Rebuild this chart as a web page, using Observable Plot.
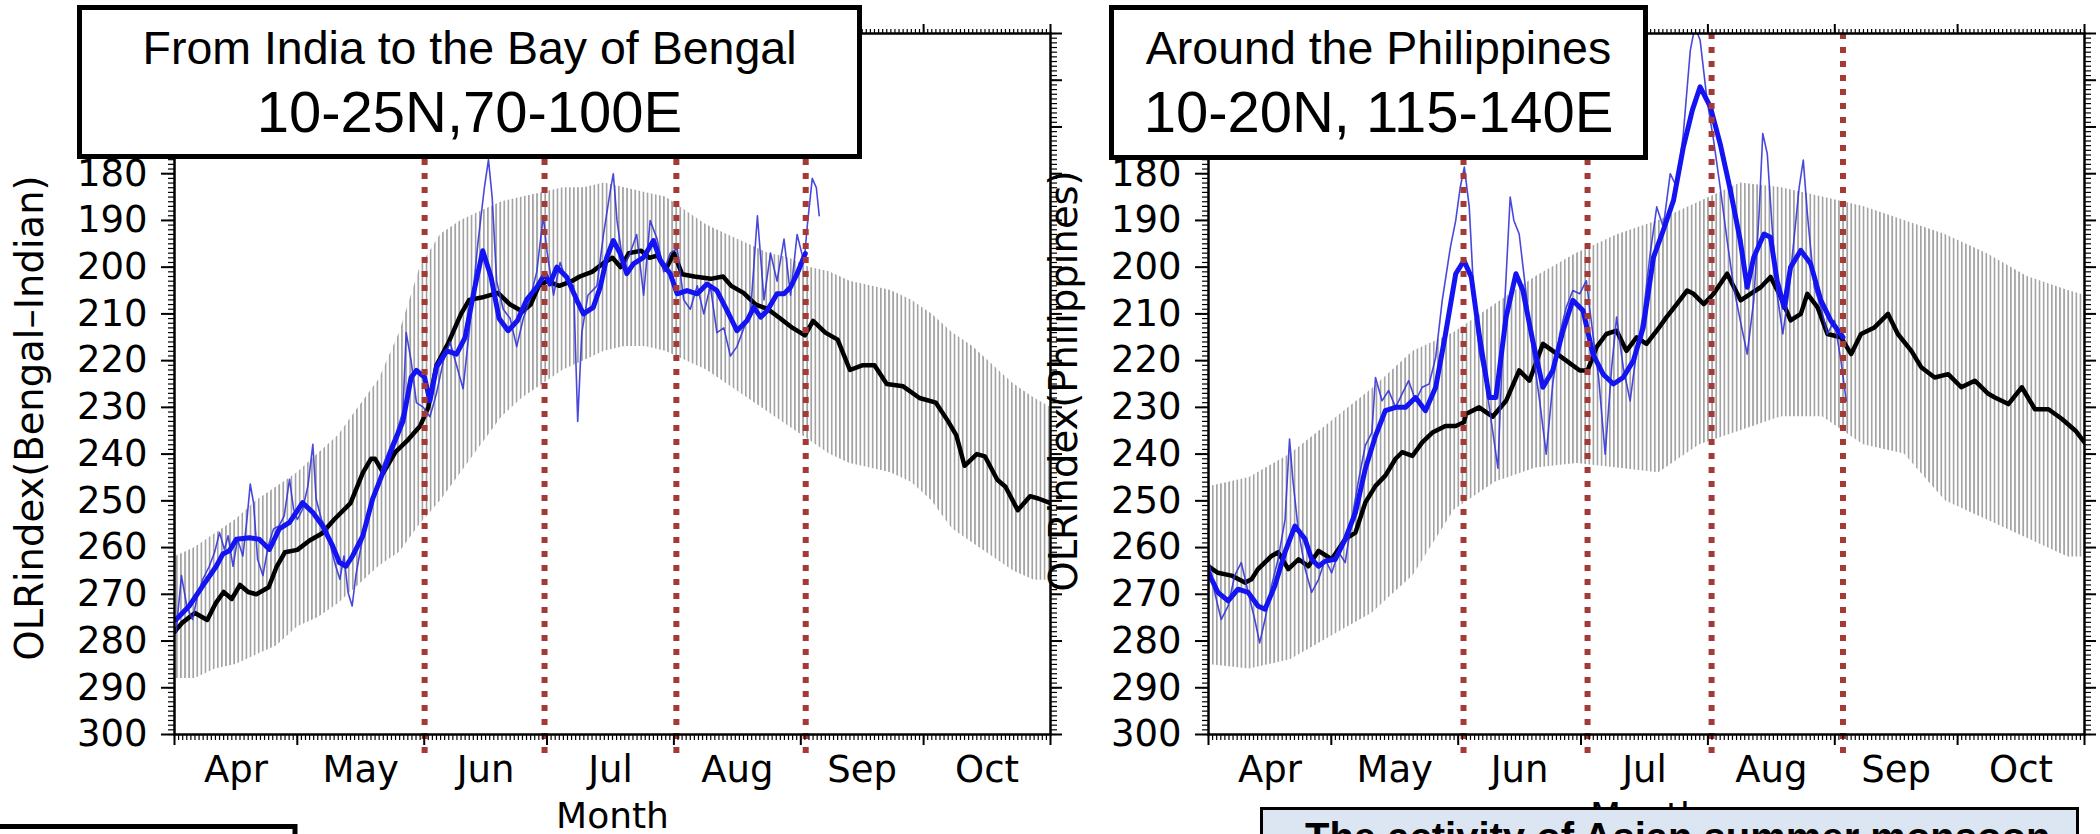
<!DOCTYPE html>
<html><head><meta charset="utf-8">
<script src="https://cdn.jsdelivr.net/npm/d3@7"></script>
<script src="https://cdn.jsdelivr.net/npm/@observablehq/plot@0.6"></script>
<style>
html,body{margin:0;padding:0;background:#fff;}
#wrap{position:relative;width:2100px;height:834px;overflow:hidden;background:#fff;}
#wrap > svg{position:absolute;top:0;}
</style></head><body>
<svg width="0" height="0" style="position:absolute;left:0;top:0">
 <defs>
  <pattern id="olrHatch" patternUnits="userSpaceOnUse" width="4.093" height="8">
   <rect x="0" y="0" width="1.7" height="8" fill="#a3a3a3"></rect>
  </pattern>
 </defs>
</svg>
<div id="wrap"></div>
<script>
// ---------- axis / tick data ----------
const monthNames = ["Apr","May","Jun","Jul","Aug","Sep","Oct"];
const monthStartDays = [0,30,61,91,122,153,183,214];   // day index, 0 = 1 April
const yTickValues = [150,160,170,180,190,200,210,220,230,240,250,260,270,280,290,300];
const yLabelled = [180,190,200,210,220,230,240,250,260,270,280,290,300];

// ---------- left panel: India to Bay of Bengal ----------
// climatology [day, OLR]
const leftClim = [[0,278],[2,276],[5,274],[8,275.5],[10,272],[12,269.5],[14,271],[16,268],[18,269.5],[20,270],[23,268.5],[25,264],[27,261],[30,260.5],[33,258.5],[36,257],[39,254],[43,250.5],[46,244],[48,241],[49,241],[51,244],[54,239.5],[57,237],[60,234],[62,230],[64,221],[67,216],[70,210],[72,207],[75,206.5],[79,205.5],[82,208],[85,209.5],[87,208],[89,204],[91,203],[94,204],[97,203],[99,202],[102,201],[105,199],[107,198],[109,200],[111,197],[114,196.5],[116,198],[118,197.5],[120,200.5],[122,197],[124,201.5],[127,202],[131,202.5],[134,202],[136,204],[139,205.5],[142,208],[145,209],[148,211],[151,213],[154,214.6],[156,211.5],[159,214],[162,215.5],[165,222],[168,221],[171,221],[174,225],[178,225.5],[182,228],[186,229],[189,233],[191,236],[193,242.5],[196,240],[198,240.5],[201,245.5],[203,247],[206,252],[209,249],[211,249.5],[214,250.5]];
// spread of the climatology [day, upper, lower]
const leftBand = [[0,262,288],[5,260,288],[10,257,286],[15,254,285],[20,250,283],[25,247,281],[30,244,277],[35,240,275],[40,236,272],[45,230,268],[50,224,264],[55,214,261],[60,200,255],[65,193,250],[70,190,244],[75,188,238],[80,186,232],[85,185,228],[90,184,225],[95,183,222],[100,183,220],[105,182,218],[110,183,217],[115,184,217],[120,185,218],[125,188,220],[130,191,222],[135,193,225],[140,195,228],[145,197,231],[150,198,234],[155,200,237],[160,201,240],[165,203,242],[170,204,243],[175,205,244],[180,207,246],[185,210,250],[190,214,256],[195,217,259],[200,221,262],[205,225,265],[210,228,267],[214,230,267]];
// daily observed (thin blue)
const leftDaily = [[0.4,278],[1.7,266],[3,272.5],[4.4,275.4],[5.6,270.4],[6.9,266.8],[8.5,264],[9.8,261],[11,256.8],[12.2,260.4],[13.1,257.5],[14.3,264],[15.4,258.2],[16.7,261.8],[17.7,254],[18.5,246.4],[19.3,250.4],[20.3,262.5],[21.6,266],[22.9,259.6],[24.2,256],[25.5,255.4],[26.8,253.2],[28.1,245.4],[29.1,251.8],[30,254],[31.3,251.8],[32.6,246.8],[33.8,237.9],[34.6,249.6],[35.9,254],[37.2,256],[38.5,261],[39.4,264],[40.4,266.8],[41.4,261.8],[42.4,269.6],[43.4,272.5],[44.3,266],[45.6,259.6],[46.9,255.4],[48.2,251],[49.6,246.8],[50.9,242.5],[52.5,238.9],[54.2,235.4],[55.8,231],[56.6,214],[57.8,220],[59.1,229],[60.8,230],[62.4,232],[64,227],[65.7,220],[67.3,216],[68.9,221],[70.5,226],[72.2,212],[74.1,195],[75.7,183],[76.7,177],[77.6,185],[78.7,203],[80.3,209],[82,211],[83.6,217],[85.2,211],[86.8,207],[88.5,201],[90.1,189],[90.9,196],[92.6,206],[94.2,199],[95.8,203],[97.5,204],[98.5,233],[99.5,214],[101,206],[103.2,204],[104.8,193],[106.4,184],[107.2,180],[108.1,190],[109.7,200],[111.3,197],[112.9,193],[114.6,206],[116.2,190],[117.9,194],[119.5,201],[121.1,197],[122.8,196],[124.4,207],[126,209],[127.7,204],[129.3,210],[130.9,204],[132.5,214],[134.2,213],[135.8,219],[137.4,217],[139.1,213],[140.7,210],[142.4,189],[144,207],[145.6,197],[147.2,203],[148.9,194],[150.5,206],[152.1,193],[153.8,199],[154.6,191],[155.8,181],[156.8,183],[157.5,189]];
// smoothed observed (thick blue)
const leftSmooth = [[0.4,275.4],[3.6,272.5],[6.9,268.2],[10.2,264],[11.8,261.4],[13.4,260.7],[15.1,258.2],[18.3,257.9],[20.7,258.2],[23.2,260.4],[25.6,256],[28.1,254.6],[31.3,250.4],[33.8,252.5],[36.2,255.4],[38.6,259.6],[40.3,263.2],[41.9,264],[43.5,261.8],[46,257.5],[48.4,249.6],[50.9,244],[53.4,238.2],[55.8,233],[57.8,223.6],[59.1,222.1],[61.1,223.6],[62.4,228.6],[64,221.4],[66.5,217.9],[68.9,218.6],[71,215],[73.2,205],[75.3,196.5],[77.3,202],[79.3,211],[81.5,213.6],[83.8,211.4],[86,207],[88.5,204.3],[90.5,201.4],[91.7,203.6],[93.4,200],[95.8,202.1],[98.3,207.1],[99.9,210],[102.3,208.6],[104,204.3],[105.6,197.9],[107.2,194.3],[108.9,197.1],[110.5,201.4],[112.1,199.3],[114.6,197.9],[117,194.3],[118.7,198.6],[121.1,201.4],[122.8,205.7],[125.2,205],[127.7,205.7],[130.1,203.6],[132.5,205],[135,209.3],[137.4,213.6],[139.9,211.4],[141.5,208.6],[143.2,210.7],[144.8,209.3],[147.2,205.7],[148.9,205.7],[150.5,204.3],[152.1,201.4],[154.1,197.1]];
const leftMarkers = [61.1,90.4,122.6,154.2];

// ---------- right panel: around the Philippines ----------
const rightClim = [[0,264],[2.3,265.4],[5.6,266],[8.9,267.5],[10.5,266.8],[12.1,264.6],[15.4,261.8],[17,261],[19.5,264.6],[22,262.5],[24.4,264],[26.9,260.7],[30.1,262.5],[33.4,258.2],[35.9,256.8],[38.3,250.4],[40.8,246.8],[43.2,244.6],[45.7,241],[47.3,239.6],[49.8,240.4],[52.2,237.5],[54.7,235.4],[57.9,234],[60.4,234],[62.4,233.2],[62.9,231.4],[66.1,230],[69.4,232],[72.7,228.6],[75.9,222.1],[78.4,224.3],[81.7,216.4],[84.1,217.9],[87.4,220],[90.7,222.1],[92.6,222.1],[94.8,217.1],[97.2,214.3],[99.7,213.6],[102.1,217.9],[104.6,215],[107,216.4],[109.5,213.6],[111.9,210.7],[114.4,207.9],[116.9,205],[118.5,205.7],[121,207.9],[123.4,205.7],[126.7,201.4],[130,207.1],[132.4,205.7],[134.9,204.3],[137.3,202.1],[139.8,206.4],[142.2,211.4],[144.7,210],[146.3,205.7],[148.8,208.6],[151.2,214.3],[154.5,215],[157,218.6],[159.4,214.3],[162.7,212.9],[166,210],[168.4,214.3],[171.7,217.9],[174.1,221.4],[177.4,223.6],[180.7,222.9],[183.9,225.7],[187.2,224.3],[190.5,227.1],[192.1,227.9],[195.4,229.3],[198.7,225.7],[201.9,230.4],[205.2,230.4],[208.5,232.5],[211.8,235],[214,237.5]];
const rightBand = [[0,247,285],[10,245,286],[20,240,284],[30,233,279],[40,226,274],[50,218,266],[60,214,252],[70,208,246],[80,202,243],[90,197,242],[100,193,243],[110,190,244],[120,186,238],[130,182,235],[140,183,232],[150,185,232],[160,187,238],[170,190,240],[180,193,250],[190,197,254],[200,202,258],[210,205,262],[214,206,262]];
const rightDaily = [[0,262.5],[1.5,269.6],[3.1,275.4],[4.8,272.5],[6.4,266],[8,263.2],[9.7,269.6],[11.3,275.4],[12.5,280.4],[13.8,275.4],[15.4,268.2],[17,262.5],[18.7,254],[19.8,236.8],[20.6,245.4],[21.9,256],[23.6,264.6],[25.2,269.6],[26.9,266.8],[28.5,262.5],[30.1,265.4],[31.8,261],[33.4,263.2],[35,254],[36.7,245.4],[38.3,238.2],[39.9,235.4],[40.8,223.6],[42.4,228.6],[44,226.4],[45.7,230],[47.3,227.1],[48.9,224.3],[50.6,228.6],[52.2,225.7],[53.9,225],[55.5,219.3],[57.1,207.1],[59.1,195.7],[60.4,190],[61.5,182.9],[62.5,178.6],[63.7,187.1],[64.8,205.7],[66.1,217.9],[67.8,225],[70.7,243],[72,214],[73.7,185],[74.6,190],[75.9,192.9],[77.6,205.7],[79.2,217.9],[80.9,228.6],[82.5,240],[84.1,225],[85.8,214.3],[87.4,208.6],[89,205],[90.7,205.7],[92.3,202.9],[93.9,214.3],[95.3,223.6],[96.9,240],[98.5,221.4],[99.7,210.7],[101.3,221.4],[103,228.6],[104.6,217.9],[106.2,210],[107.9,197.1],[109.5,187.1],[111.1,191.4],[112.8,180],[114.4,182.9],[116,171.4],[117.7,153.6],[118.8,148.6],[120.1,151.4],[121.8,164.3],[123.4,172.9],[125,182.9],[126.7,194.3],[128.3,204.3],[129.9,211.4],[131.6,218.6],[133.2,207.1],[134.5,188.6],[135.4,171.4],[136.5,175.7],[137.8,192.9],[138.9,205.7],[140.3,214.3],[141.7,205.7],[143,194.3],[144.3,182.9],[145.3,177.1],[146.3,188.6],[148,204.3],[149.6,208.6],[151.2,214.3],[152.9,211.4],[154.5,220],[155.8,228.6]];
const rightSmooth = [[0,265.4],[2.3,269.6],[4.8,271.4],[7.2,268.9],[9.7,269.6],[12.1,272.5],[13.8,273.2],[16.2,268.2],[18.7,261],[21.1,255.4],[23.6,258.2],[25.2,262.5],[26.9,264],[28.5,262.9],[31,262.5],[33.4,258.2],[35.9,252.5],[38.3,243.2],[40.8,236.1],[42.4,232.5],[43.2,230.7],[45.7,230],[48.1,230],[50.6,227.9],[53,230.7],[55.5,225.7],[57.9,214.3],[60.4,201.4],[62.4,198.6],[64.2,202.1],[66.1,214.3],[68.6,227.9],[70.2,227.9],[72.7,210.7],[75.1,201.4],[76.8,205],[79.2,215.7],[81.7,225.7],[84.1,222.1],[86.6,213.6],[89,207.1],[91.5,209.3],[93.9,218.6],[96.4,222.9],[98.9,225],[101.3,223.6],[103.8,220],[106.2,212.9],[108.7,197.9],[111.1,192.1],[113.6,185.7],[116,174.3],[118.2,166.4],[120.1,161.4],[122.6,165.7],[125,173.6],[127.5,183.6],[129.9,194.3],[131.6,204.3],[133.2,197.9],[135.7,192.9],[137.3,193.6],[138.9,202.9],[140.6,208.6],[142.2,200],[144.7,196.4],[147.1,199.3],[149.6,207.1],[152,211.4],[155,215]];
const rightMarkers = [62.3,92.6,122.9,155.0];

// ---------- build panels ----------
const dayTicks = d3.range(0, 215);
const yMinorTicks = d3.range(150, 301);
const monthMidDays = monthNames.map((m, i) => (monthStartDays[i] + monthStartDays[i + 1]) / 2);
const blank = () => "";

function panel(cfg) {
  const X = d => d[0], Y = d => d[1];
  return Plot.plot({
    width: cfg.width, height: 834,
    marginLeft: cfg.ml, marginRight: cfg.mr, marginTop: 33, marginBottom: 100,
    style: {fontFamily: '"DejaVu Sans", sans-serif', background: "transparent", color: "#000", overflow: "visible"},
    x: {domain: [0, 214]},
    y: {domain: [150, 300], reverse: true},
    marks: [
      Plot.areaY(cfg.band, {x: X, y1: d => d[1], y2: d => d[2], fill: "url(#olrHatch)", clip: true}),
      Plot.line(cfg.clim, {x: X, y: Y, stroke: "#000", strokeWidth: 4.5, clip: true}),
      Plot.line(cfg.daily, {x: X, y: Y, stroke: "#3434d8", strokeWidth: 1.6, strokeOpacity: 0.9, clip: true}),
      Plot.line(cfg.smooth, {x: X, y: Y, stroke: "#1414f2", strokeWidth: 5, clip: true}),
      Plot.ruleX(cfg.markers, {y1: 150, y2: 305, stroke: "#a33a35", strokeWidth: 6, strokeDasharray: "6,8"}),
      Plot.axisY(yMinorTicks, {anchor: "left", tickSize: 6, tickFormat: blank, label: null, strokeWidth: 1.2}),
      Plot.axisY(yTickValues, {anchor: "left", tickSize: 13, tickPadding: 14, tickFormat: d => yLabelled.includes(d) ? String(d) : "", fontSize: 37, label: null, strokeWidth: 2}),
      Plot.axisY(yMinorTicks, {anchor: "right", tickSize: 6, tickFormat: blank, label: null, strokeWidth: 1.2}),
      Plot.axisY(yTickValues, {anchor: "right", tickSize: 11, tickFormat: blank, label: null, strokeWidth: 2}),
      Plot.axisX(dayTicks, {anchor: "bottom", tickSize: 6, tickFormat: blank, label: null, strokeWidth: 1.2}),
      Plot.axisX(monthStartDays, {anchor: "bottom", tickSize: 11, tickFormat: blank, label: null, strokeWidth: 2}),
      Plot.axisX(monthMidDays, {anchor: "bottom", tickSize: 0, tickPadding: 21, tickFormat: d => monthNames[monthMidDays.indexOf(d)], fontSize: 37, label: null}),
      Plot.axisX(dayTicks, {anchor: "top", tickSize: 5, tickFormat: blank, label: null, strokeWidth: 1.2}),
      Plot.axisX(monthStartDays, {anchor: "top", tickSize: 10, tickFormat: blank, label: null, strokeWidth: 2}),
      Plot.frame({stroke: "#000", strokeWidth: 2.5}),
      Plot.text([cfg.ytitle], {text: d => d, frameAnchor: "left", dx: -144, dy: cfg.ytitleDy, rotate: -90, fontSize: 38.5, textAnchor: "middle", lineAnchor: "middle"}),
      Plot.text(["Month"], {text: d => d, frameAnchor: "bottom", dy: 93, lineAnchor: "bottom", fontSize: 36})
    ]
  });
}

const wrap = document.getElementById("wrap");
const left = panel({width: 1062, ml: 174, mr: 12, band: leftBand, clim: leftClim, daily: leftDaily, smooth: leftSmooth, markers: leftMarkers, ytitle: "OLRindex(Bengal\u2013Indian)", ytitleDy: 34});
left.style.left = "0px";
wrap.appendChild(left);
const right = panel({width: 1060, ml: 168, mr: 16, band: rightBand, clim: rightClim, daily: rightDaily, smooth: rightSmooth, markers: rightMarkers, ytitle: "OLRindex(Philippines)", ytitleDy: -3});
right.style.left = "1040px";
wrap.appendChild(right);

// ---------- annotation boxes ----------
const ann = d3.select(wrap).append("svg").attr("width", 2100).attr("height", 834)
  .style("left", "0px").style("pointer-events", "none")
  .style("font-family", '"Liberation Sans", Arial, sans-serif');
function titleBox(x0, x1, y0, y1, l1, l2) {
  ann.append("rect").attr("x", x0 + 2.5).attr("y", y0 + 2.5).attr("width", x1 - x0 - 5).attr("height", y1 - y0 - 5)
    .attr("fill", "#fff").attr("stroke", "#000").attr("stroke-width", 5);
  const cx = (x0 + x1) / 2;
  ann.append("text").attr("x", cx).attr("y", 64).attr("text-anchor", "middle").attr("font-size", 46.5).text(l1);
  ann.append("text").attr("x", cx).attr("y", 132).attr("text-anchor", "middle").attr("font-size", 58).text(l2);
}
titleBox(77, 862, 5, 159, "From India to the Bay of Bengal", "10-25N,70-100E");
titleBox(1109, 1648, 5, 160, "Around the Philippines", "10-20N, 115-140E");
ann.append("rect").attr("x", -10).attr("y", 826.5).attr("width", 305).attr("height", 100)
  .attr("fill", "#fff").attr("stroke", "#000").attr("stroke-width", 5);
ann.append("rect").attr("x", 1261.5).attr("y", 808.5).attr("width", 816).attr("height", 100)
  .attr("fill", "#dce6f2").attr("stroke", "#000").attr("stroke-width", 3);
ann.append("text").attr("x", 1305).attr("y", 851).attr("font-size", 40).attr("font-weight", "bold")
  .text("The activity of Asian summer monsoon");
</script></body></html>
